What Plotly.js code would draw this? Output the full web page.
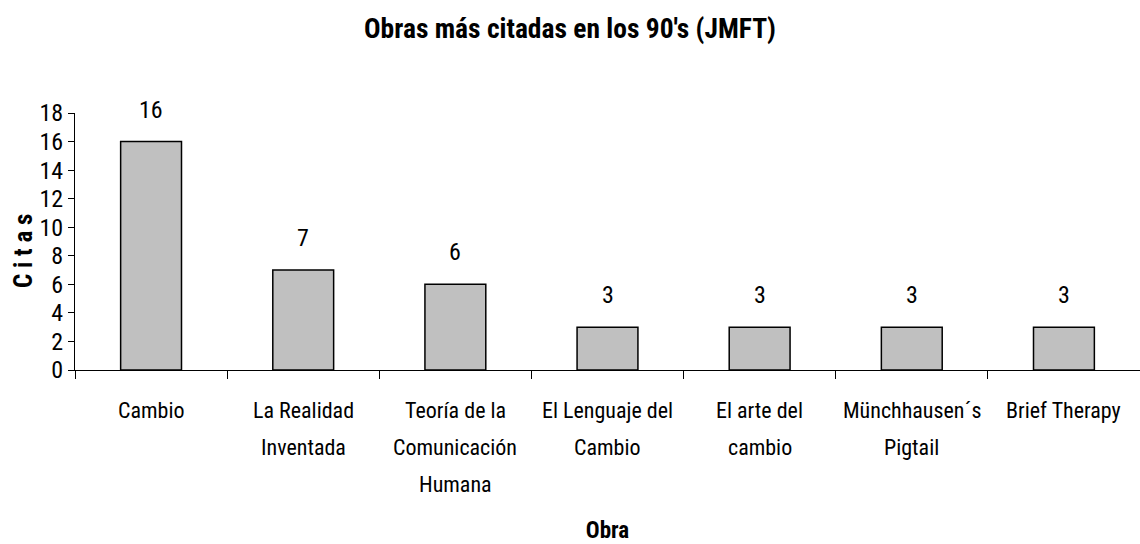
<!DOCTYPE html>
<html>
<head>
<meta charset="utf-8">
<script src="https://cdn.plot.ly/plotly-3.0.1.min.js"></script>
<style>html,body{margin:0;padding:0;background:#fff;}#chart{width:1140px;height:544px;}</style>
</head>
<body>
<div id="chart"></div>
<script>
const categories = ["Cambio", "La Realidad Inventada", "Teoría de la Comunicación Humana", "El Lenguaje del Cambio", "El arte del cambio", "Münchhausen´s Pigtail", "Brief Therapy"];
const tickLines = [["Cambio"], ["La Realidad", "Inventada"], ["Teoría de la", "Comunicación", "Humana"], ["El Lenguaje del", "Cambio"], ["El arte del", "cambio"], ["Münchhausen´s", "Pigtail"], ["Brief Therapy"]];
const citas = [16, 7, 6, 3, 3, 3, 3];
const yTicks = [0, 2, 4, 6, 8, 10, 12, 14, 16, 18];

const FONT = "'Roboto Condensed', 'Liberation Sans', sans-serif";

const annotations = [];
categories.forEach((c, i) => {
  annotations.push({x: c, y: citas[i], xref: 'x', yref: 'y', text: String(citas[i]), showarrow: false,
    yanchor: 'bottom', yshift: 16, font: {family: FONT, size: 24, color: '#000'}});
  tickLines[i].forEach((ln, j) => {
    annotations.push({x: c, y: 0, xref: 'x', yref: 'paper', text: ln, showarrow: false,
      yanchor: 'middle', yshift: -40 - 37 * j, font: {family: FONT, size: 22, color: '#000'}});
  });
});
// y-axis title
annotations.push({x: 0, y: 0.463, xref: 'paper', yref: 'paper', xshift: -52, textangle: -90, showarrow: false,
  xanchor: 'center', yanchor: 'middle', text: '<b>C i t a s</b>', font: {family: FONT, size: 25, color: '#000'}});

const trace = {
  type: 'bar', x: categories, y: citas,
  marker: {color: '#C0C0C0', line: {color: '#000', width: 1.5}},
  hoverinfo: 'x+y'
};

const layout = {
  width: 1140, height: 544,
  margin: {l: 75, r: 0, t: 113, b: 174},
  paper_bgcolor: '#fff', plot_bgcolor: '#fff',
  bargap: 0.6,
  showlegend: false,
  font: {family: FONT, color: '#000'},
  title: {text: "<b>Obras más citadas en los 90's (JMFT)</b>", x: 0.5, xref: 'container', y: 1 - 28/544, yref: 'container', yanchor: 'middle', xanchor: 'center',
    font: {family: FONT, size: 27.5, color: '#000'}},
  xaxis: {type: 'category', range: [-0.5, 6.5], showline: true, linecolor: '#000', linewidth: 1,
    ticks: 'outside', tickson: 'boundaries', ticklen: 8, tickcolor: '#000', tickwidth: 1,
    showticklabels: false, showgrid: false, zeroline: false, fixedrange: true,
    title: {text: '<b>Obra</b>', font: {family: FONT, size: 23, color: '#000'}, standoff: 151}, automargin: false},
  yaxis: {range: [0, 18], tickvals: yTicks, ticktext: yTicks.map(String), showline: true, linecolor: '#000', linewidth: 1,
    ticks: 'outside', ticklen: 6, tickcolor: '#000', tickwidth: 1, showgrid: false, zeroline: false,
    tickfont: {family: FONT, size: 24, color: '#000'}, fixedrange: true, automargin: false},
  annotations: annotations
};

Plotly.newPlot('chart', [trace], layout, {displayModeBar: false, staticPlot: true});
</script>
</body>
</html>
